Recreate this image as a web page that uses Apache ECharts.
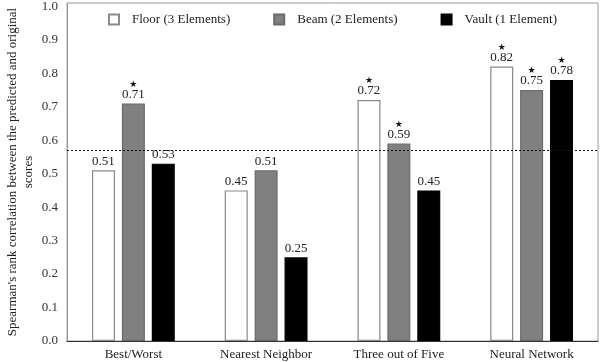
<!DOCTYPE html>
<html><head><meta charset="utf-8">
<script src="https://cdn.jsdelivr.net/npm/echarts@6/dist/echarts.min.js"></script>
<style>html,body{margin:0;padding:0;background:#fff}#c{width:600px;height:362px}</style>
</head><body><div id="c"></div>
<script>
const categories = ['Best/Worst', 'Nearest Neighbor', 'Three out of Five', 'Neural Network'];
const seriesNames = ['Floor (3 Elements)', 'Beam (2 Elements)', 'Vault (1 Element)'];
const floorVals = [0.51, 0.45, 0.72, 0.82];
const beamVals = [0.71, 0.51, 0.59, 0.75];
const vaultVals = [0.53, 0.25, 0.45, 0.78];
const floorSig = [0, 0, 1, 1];
const beamSig = [1, 0, 1, 1];
const vaultSig = [0, 0, 0, 1];
const thresholdValue = 0.573;
const yTicks = [0.0, 0.1, 0.2, 0.3, 0.4, 0.5, 0.6, 0.7, 0.8, 0.9, 1.0];

const serif = '"Liberation Serif", "DejaVu Serif", serif';
const fills = ['#ffffff', '#808080', '#000000'];
const borders = ['#8a8a8a', '#6a6a6a', '#000000'];
const vals = [floorVals, beamVals, vaultVals];
const sigs = [floorSig, beamSig, vaultSig];

const series = seriesNames.map((name, si) => ({
  name: name,
  type: 'bar',
  barWidth: 23,
  barGap: '30%',
  data: vals[si].map((v, i) => ({ value: v, sig: sigs[si][i] })),
  itemStyle: { color: fills[si], borderColor: borders[si], borderWidth: 1.2 },
  label: {
    show: true, position: 'top', distance: 3,
    fontFamily: serif, fontSize: 13, color: '#222',
    lineHeight: 12,
    formatter: p => (p.data.sig ? '{s|★}\n' : '') + p.value.toFixed(2),
    rich: { s: { fontSize: 9, lineHeight: 8, color: '#111', fontFamily: 'DejaVu Sans' } }
  },
  markLine: si === 0 ? {
    silent: true, symbol: 'none', label: { show: false },
    lineStyle: { color: '#111', type: [2, 2], width: 1 },
    data: [{ yAxis: thresholdValue }]
  } : undefined
}));

const chart = echarts.init(document.getElementById('c'));
chart.setOption({
  animation: false,
  grid: { left: 67, right: 2, top: 3, bottom: 21, outerBoundsMode: 'none', containLabel: false, show: true, borderColor: '#9a9a9a', borderWidth: 1, backgroundColor: 'transparent' },
  legend: {
    top: 8, left: 103, itemWidth: 10, itemHeight: 10, itemGap: 43, icon: 'rect',
    textStyle: { fontFamily: serif, fontSize: 13, color: '#222', padding: [0, 0, 0, 8] },
    data: seriesNames
  },
  xAxis: {
    type: 'category', data: categories,
    axisLine: { lineStyle: { color: '#333', width: 1.2 } },
    axisTick: { show: false },
    axisLabel: { fontFamily: serif, fontSize: 13, color: '#222', margin: 7 }
  },
  yAxis: {
    type: 'value', min: 0, max: 1.01, interval: 0.1,
    name: "Spearman's rank correlation between the predicted and original\nscores",
    nameLocation: 'middle', nameGap: 30, nameRotate: 90, nameMoveOverlap: false,
    nameTextStyle: { fontFamily: serif, fontSize: 13, color: '#222', lineHeight: 16 },
    axisLine: { show: true, lineStyle: { color: '#9a9a9a' } },
    axisTick: { show: false },
    splitLine: { show: false },
    axisLabel: {
      fontFamily: serif, fontSize: 13, color: '#333', margin: 9,
      formatter: v => {
        const t = yTicks.find(x => Math.abs(x - v) < 1e-6);
        return t === undefined ? '' : t.toFixed(1);
      }
    }
  },
  series: series
});
</script></body></html>
